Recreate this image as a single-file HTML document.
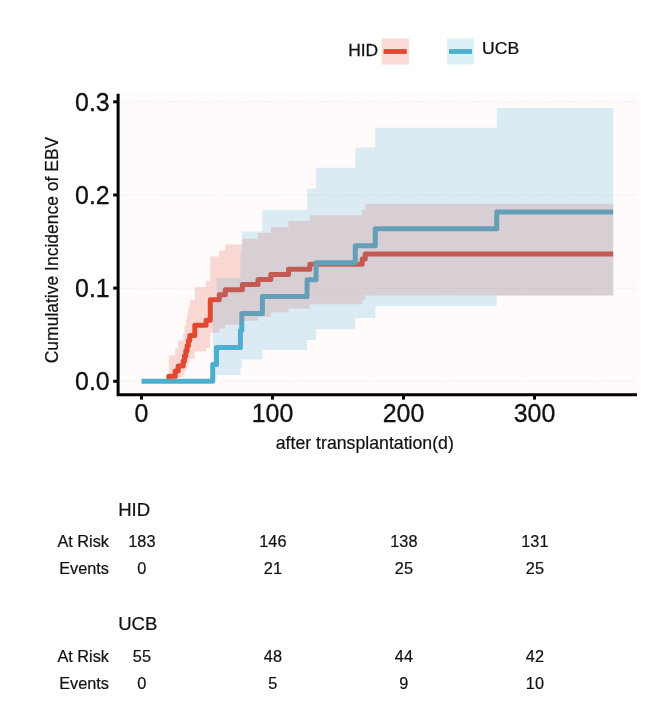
<!DOCTYPE html>
<html lang="en">
<head>
<meta charset="utf-8">
<title>Cumulative Incidence of EBV</title>
<style>
html,body{margin:0;padding:0;background:#fff;}
body{width:664px;height:712px;overflow:hidden;}
svg{display:block;font-family:"Liberation Sans",Arial,sans-serif;fill:#111;}
.tick text{font-size:24.9px;stroke:#111;stroke-width:0.3px;}
.ttl{font-size:17.5px;stroke:#111;stroke-width:0.2px;}
.leg text{font-size:16px;stroke:#111;stroke-width:0.25px;}
.tbl text{font-size:16.3px;stroke:#111;stroke-width:0.2px;}
.tbl text.g{font-size:17.7px;}
</style>
</head>
<body>
<svg width="664" height="712" viewBox="0 0 664 712">
<rect x="0" y="0" width="664" height="712" fill="#ffffff"/>
<rect x="118.2" y="92.8" width="520.8" height="302.0" fill="#fefbfa"/>
<g stroke="#e8e0e0" stroke-width="0.6" stroke-dasharray="2.2 1.6" fill="none"><line x1="118.2" x2="639" y1="381.3" y2="381.3"/><line x1="118.2" x2="639" y1="288.1" y2="288.1"/><line x1="118.2" x2="639" y1="195" y2="195"/><line x1="118.2" x2="639" y1="101.8" y2="101.8"/></g>
<g fill="none" stroke-width="5" stroke-linejoin="round">
<path d="M168.8 381.3H168.8V376.2H175.2V371.1H178.2V366H183.2V360.9H184.5V355.8H185.8V350.8H187.1V345.7H188.4V340.6H189.8V335.5H194.8V325.3H206.1V320.2H210.3V299.8H219.3V294.7H225.3V289.7H242.4V284.6H258V279.5H270.8V274.4H288.5V269.3H309.8V264.2H362.2V259.1H365.2V254H613.2" stroke="#e24730"/>
<path d="M141.5 381.3H212.7V364.4H216.5V347.4H240.4V330.5H241.8V313.5H262.4V296.6H307.1V279.7H316.1V262.7H355.3V245.8H375.3V228.8H496.7V211.9H613.2" stroke="#4cafcf"/>
</g>
<path d="M168.8 355.3V355.3H175.2V347.9H178.2V340.5H183.2V333.4H184.5V326.4H185.8V319.6H187.1V312.9H188.4V306.4H189.8V299.9H194.8V287.3H206.1V281H210.3V256.6H219.3V250.6H225.3V244.6H242.4V238.7H258V232.8H270.8V226.9H288.5V221.1H309.8V215.3H362.2V209.5H365.2V203.7H613.2V295.6H365.2V300.2H362.2V304.3H309.8V308.5H288.5V312.6H270.8V316.7H258V320.7H242.4V324.8H225.3V328.7H219.3V332.7H210.3V348H206.1V351.6H194.8V358.8H189.8V362.2H188.4V365.5H187.1V368.7H185.8V371.7H184.5V374.5H183.2V377.1H178.2V379.3H175.2V380.8H168.8Z" fill="#e64b35" fill-opacity="0.2"/>
<path d="M212.7 302.4V302.4H216.5V277.9H240.4V254.3H241.8V231.6H262.4V209.8H307.1V188.5H316.1V167.8H355.3V147.6H375.3V127.7H496.7V108.1H613.2V295.6H496.7V306.2H375.3V317.9H355.3V329.2H316.1V340H307.1V350.1H262.4V359.5H241.8V368H240.4V375H216.5V379.9H212.7Z" fill="#52b0d8" fill-opacity="0.2"/>
<g stroke="#000" stroke-width="3" fill="none">
<path d="M118.1 93.8V396.3M116.6 394.8H637"/>
<line x1="113.2" x2="117" y1="381.3" y2="381.3"/><line x1="113.2" x2="117" y1="288.1" y2="288.1"/><line x1="113.2" x2="117" y1="195" y2="195"/><line x1="113.2" x2="117" y1="101.8" y2="101.8"/><line y1="396" y2="399.6" x1="141.5" x2="141.5"/><line y1="396" y2="399.6" x1="272.5" x2="272.5"/><line y1="396" y2="399.6" x1="403.5" x2="403.5"/><line y1="396" y2="399.6" x1="534.5" x2="534.5"/>
</g>
<g class="tick"><text transform="translate(109.7 390.1) scale(1.0 1.07)" text-anchor="end">0.0</text><text transform="translate(109.7 297.2) scale(1.0 1.07)" text-anchor="end">0.1</text><text transform="translate(109.7 204.3) scale(1.0 1.07)" text-anchor="end">0.2</text><text transform="translate(109.7 111.4) scale(1.0 1.07)" text-anchor="end">0.3</text><text transform="translate(141.5 421.8) scale(1.0 1.05)" text-anchor="middle">0</text><text transform="translate(272.5 421.8) scale(1.0 1.05)" text-anchor="middle">100</text><text transform="translate(403.5 421.8) scale(1.0 1.05)" text-anchor="middle">200</text><text transform="translate(534.5 421.8) scale(1.0 1.05)" text-anchor="middle">300</text></g>
<text class="ttl" transform="translate(364.8 449.2) scale(1.012 1.06)" text-anchor="middle">after transplantation(d)</text>
<text class="ttl" transform="translate(58.1 250) rotate(-90) scale(1 1.04)" text-anchor="middle">Cumulative Incidence of EBV</text>
<g class="leg">
<text transform="translate(348.2 56) scale(1.09 1.0)">HID</text>
<rect x="381.7" y="38.4" width="27.2" height="26.2" fill="#e64b35" fill-opacity="0.2"/>
<rect x="383.6" y="49.1" width="23.2" height="4.8" fill="#e24730"/>
<rect x="447" y="38.4" width="26.9" height="26.2" fill="#4dbbd5" fill-opacity="0.2"/>
<rect x="449" y="49.1" width="23" height="4.8" fill="#4cafcf"/>
<text transform="translate(482 53.7) scale(1.1 1.0)">UCB</text>
</g>
<g class="tbl"><text transform="translate(118.2 515.7) scale(1.05 1.0)" class="g">HID</text><text x="109" y="547.2" text-anchor="end">At Risk</text><text x="141.9" y="547.2" text-anchor="middle">183</text><text x="272.9" y="547.2" text-anchor="middle">146</text><text x="403.9" y="547.2" text-anchor="middle">138</text><text x="534.9" y="547.2" text-anchor="middle">131</text><text x="109" y="573.6" text-anchor="end">Events</text><text x="141.9" y="573.6" text-anchor="middle">0</text><text x="272.9" y="573.6" text-anchor="middle">21</text><text x="403.9" y="573.6" text-anchor="middle">25</text><text x="534.9" y="573.6" text-anchor="middle">25</text><text transform="translate(118.2 629.7) scale(1.05 1.0)" class="g">UCB</text><text x="109" y="662.2" text-anchor="end">At Risk</text><text x="141.9" y="662.2" text-anchor="middle">55</text><text x="272.9" y="662.2" text-anchor="middle">48</text><text x="403.9" y="662.2" text-anchor="middle">44</text><text x="534.9" y="662.2" text-anchor="middle">42</text><text x="109" y="688.7" text-anchor="end">Events</text><text x="141.9" y="688.7" text-anchor="middle">0</text><text x="272.9" y="688.7" text-anchor="middle">5</text><text x="403.9" y="688.7" text-anchor="middle">9</text><text x="534.9" y="688.7" text-anchor="middle">10</text></g>
</svg>
</body>
</html>
